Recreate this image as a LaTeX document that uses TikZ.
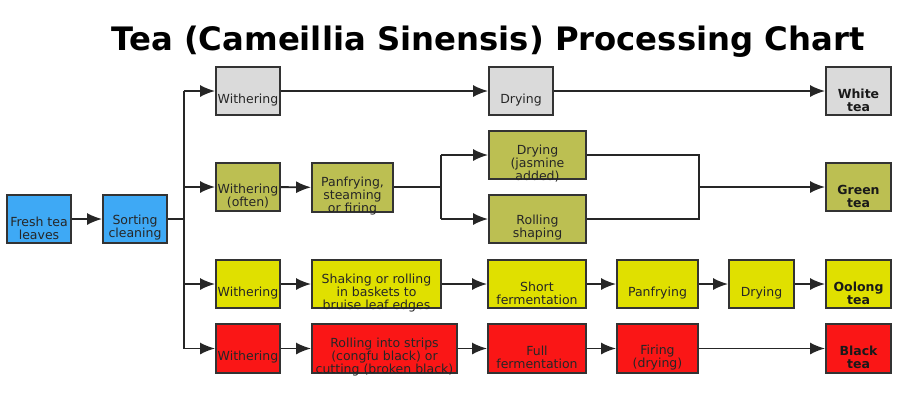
\documentclass[tikz,border=0pt]{standalone}
\usepackage{fontspec}
\setmainfont{DejaVu Sans}
\usepackage{tikz}
\usetikzlibrary{arrows.meta}

\definecolor{leafblue}{RGB}{62,169,245}
\definecolor{whitegray}{RGB}{218,218,218}
\definecolor{greenolive}{RGB}{188,191,82}
\definecolor{oolongyel}{RGB}{224,224,0}
\definecolor{blackred}{RGB}{250,22,22}

\begin{document}
\begin{tikzpicture}[x=1pt,y=-1pt,
    stage/.style={draw=black!80, line width=1.8pt, fill=#1, minimum height=48pt, inner sep=0pt},
    txt/.style={font=\fontsize{12.5}{13}\selectfont, text=black!85, align=center, yshift=-9pt},
    tea/.style={font=\fontsize{12.5}{13}\selectfont\bfseries, text=black!90, align=center, yshift=-9pt},
    line/.style={line width=1.9pt, draw=black!85},
    flow/.style={line, -{Latex[length=15pt,width=12pt]}}]
      \fill[white] (0,0) rectangle (900,400);
      \useasboundingbox (0,0) rectangle (900,400);

      \node[font=\fontsize{32.3}{38}\selectfont\bfseries] (title) at (488,42) {Tea (Cameillia Sinensis) Processing Chart};

      %% start
      \node[stage=leafblue, minimum width=64pt] (fresh) at (39,219) {};
      \node[txt] at (fresh.center) {Fresh tea\\leaves};
      \node[stage=leafblue, minimum width=64pt] (sort) at (135,219) {};
      \node[txt] at (sort.center) {Sorting\\cleaning};

      %% white tea
      \node[stage=whitegray, minimum width=64pt] (wgray) at (248,91) {};
      \node[txt] at (wgray.center) {Withering};
      \node[stage=whitegray, minimum width=64pt] (dgray) at (521,91) {};
      \node[txt] at (dgray.center) {Drying};
      \node[stage=whitegray, minimum width=65pt] (white) at (858.5,91) {};
      \node[tea] at (white.center) {White\\tea};

      %% green tea
      \node[stage=greenolive, minimum width=64pt] (wgreen) at (248,187) {};
      \node[txt] at (wgreen.center) {Withering\\(often)};
      \node[stage=greenolive, minimum width=81pt, minimum height=49pt] (pan) at (352.5,187.5) {};
      \node[txt] at (pan.center) {Panfrying,\\steaming\\or firing};
      \node[stage=greenolive, minimum width=97pt] (jasmine) at (537.5,155) {};
      \node[txt] at (jasmine.center) {Drying\\(jasmine\\added)};
      \node[stage=greenolive, minimum width=97pt] (rollshape) at (537.5,219) {};
      \node[txt] at (rollshape.center) {Rolling\\shaping};
      \node[stage=greenolive, minimum width=65pt] (green) at (858.5,187) {};
      \node[tea] at (green.center) {Green\\tea};

      %% oolong tea
      \node[stage=oolongyel, minimum width=64pt] (wyel) at (248,284) {};
      \node[txt] at (wyel.center) {Withering};
      \node[stage=oolongyel, minimum width=129pt] (shake) at (376.5,284) {};
      \node[txt] at (shake.center) {Shaking or rolling\\in baskets to\\bruise leaf edges};
      \node[stage=oolongyel, minimum width=98pt] (short) at (537,284) {};
      \node[txt] at (short.center) {Short\\fermentation};
      \node[stage=oolongyel, minimum width=81pt] (panfry) at (657.5,284) {};
      \node[txt] at (panfry.center) {Panfrying};
      \node[stage=oolongyel, minimum width=65pt] (dry) at (761.5,284) {};
      \node[txt] at (dry.center) {Drying};
      \node[stage=oolongyel, minimum width=65pt] (oolong) at (858.5,284) {};
      \node[tea] at (oolong.center) {Oolong\\tea};

      %% black tea
      \node[stage=blackred, minimum width=64pt, minimum height=49pt] (wred) at (248,348.5) {};
      \node[txt] at (wred.center) {Withering};
      \node[stage=blackred, minimum width=145pt, minimum height=49pt] (strips) at (384.5,348.5) {};
      \node[txt] at (strips.center) {Rolling into strips\\(congfu black) or\\cutting (broken black)};
      \node[stage=blackred, minimum width=98pt, minimum height=49pt] (full) at (537,348.5) {};
      \node[txt] at (full.center) {Full\\fermentation};
      \node[stage=blackred, minimum width=81pt, minimum height=49pt] (firing) at (657.5,348.5) {};
      \node[txt] at (firing.center) {Firing\\(drying)};
      \node[stage=blackred, minimum width=65pt, minimum height=49pt] (black) at (858.5,348.5) {};
      \node[tea] at (black.center) {Black\\tea};

      %% connectors
      \draw[flow] (fresh) -- (sort);
      \draw[line] (sort.east) -- ++(16,0) coordinate (split);
      \draw[line] (split |- wgray) -- (split |- wred);
      \foreach \w in {wgray,wgreen,wyel,wred}
        \draw[flow] (split |- \w) -- (\w);

      \draw[flow] (wgray) -- (dgray);
      \draw[flow] (dgray) -- (white);

      \draw[flow] (wgreen) -- (pan);
      \draw[line] (pan.east |- wgreen) -- ++(47,0) coordinate (fork);
      \draw[line] (fork |- jasmine) -- (fork |- rollshape);
      \draw[flow] (fork |- jasmine) -- (jasmine);
      \draw[flow] (fork |- rollshape) -- (rollshape);
      \draw[line] (jasmine.east) -- ++(112,0) coordinate (join) -- (join |- rollshape) -- (rollshape.east);
      \draw[flow] (join |- green) -- (green);

      \draw[flow] (wyel) -- (shake);
      \draw[flow] (shake) -- (short);
      \draw[flow] (short) -- (panfry);
      \draw[flow] (panfry) -- (dry);
      \draw[flow] (dry) -- (oolong);

      \draw[flow] (wred) -- (strips);
      \draw[flow] (strips) -- (full);
      \draw[flow] (full) -- (firing);
      \draw[flow] (firing) -- (black);
\end{tikzpicture}
\end{document}
